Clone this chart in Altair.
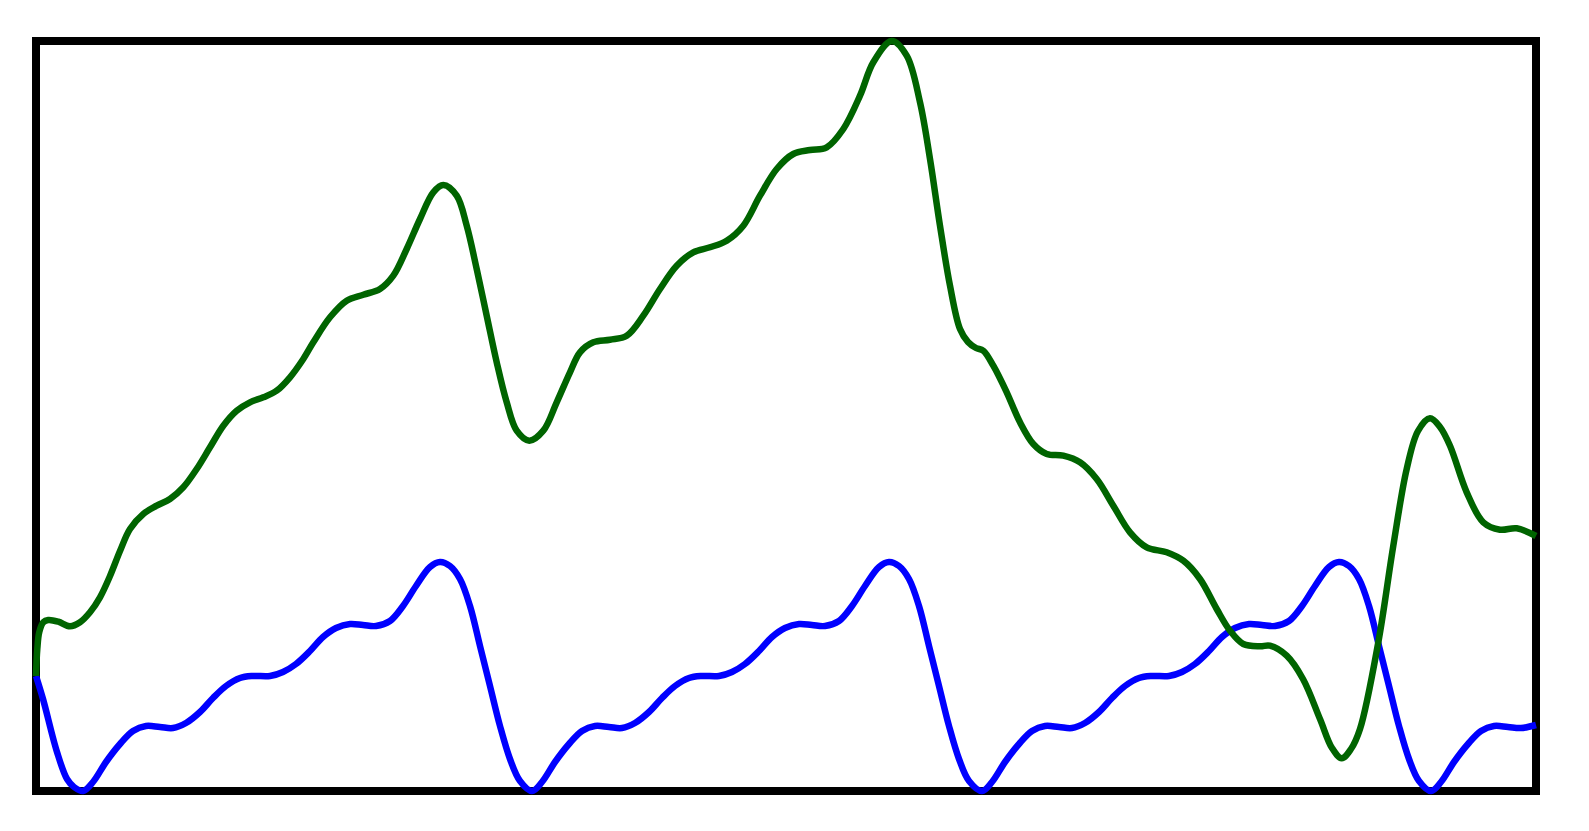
import altair as alt
import pandas as pd

# Values (x: 0..1500 across the frame, y: 0..750 bottom to top)
blue_x = [0, 7, 21, 31, 38, 47,
          57, 70, 84, 97, 110, 124, 137, 150, 164, 177, 190, 204, 217, 234, 247, 260, 274, 287,
          300, 314, 327, 340, 354, 367, 380, 394, 404, 414, 424, 434, 444, 454, 464, 474, 484, 496,
          506, 519, 533, 546, 559, 573, 586, 599, 613, 626, 639, 653, 666, 683, 696, 709, 723, 736,
          749, 763, 776, 789, 803, 816, 829, 843, 853, 863, 873, 883, 893, 903, 913, 923, 933, 946,
          956, 969, 983, 996, 1009, 1023, 1036, 1049, 1063, 1076, 1089, 1103, 1116, 1133, 1146, 1159,
          1173, 1186, 1199, 1213, 1226, 1239, 1253, 1266, 1279, 1293, 1303, 1313, 1323, 1333, 1343,
          1353, 1363, 1373, 1383, 1395,
          1405, 1418, 1432, 1445, 1458, 1472, 1485, 1500]
blue_y = [115, 92, 39, 12, 4, 0,
          9, 29, 47, 60, 65, 64, 63, 68, 79, 93, 105, 113, 115, 115, 119, 127, 140, 154,
          163, 167, 166, 165, 170, 185, 205, 224, 229, 225, 212, 185, 145, 105, 65, 32, 10, 0,
          9, 29, 47, 60, 65, 64, 63, 68, 79, 93, 105, 113, 115, 115, 119, 127, 140, 154,
          163, 167, 166, 165, 170, 185, 205, 224, 229, 225, 212, 185, 145, 105, 65, 32, 10, 0,
          9, 29, 47, 60, 65, 64, 63, 68, 79, 93, 105, 113, 115, 115, 119, 127,
          140, 154, 163, 167, 166, 165, 170, 185, 205, 224, 229, 225, 212, 185, 145,
          105, 65, 32, 10, 0,
          9, 29, 47, 60, 65, 64, 63, 66]

green_x = [0, 1.3, 3.3, 7.3, 12.3, 22.3, 34, 44, 54, 64, 74, 84, 94, 107.3, 120.7, 134, 147.3,
           160.7, 174, 187.3, 200.7, 214, 227.3, 240.7, 254, 267.3, 277.3, 294, 310.7, 327.3, 344,
           357.3, 370.7, 384, 397.3, 407.3, 420.7, 430.7, 440.7, 450.7, 460.7, 470.7, 480.7, 493.3,
           507.3, 520.7, 534, 544, 557.3, 574, 590.7, 607.3, 624, 640.7, 657.3, 674, 690.7, 707.3,
           724, 740.7, 757.3, 774, 790.7, 807.3, 824, 837.3, 855.7, 870.7, 884, 894, 904, 914, 924,
           932, 940, 947.3, 957.3, 970.7, 984, 997.3, 1010.7, 1027.3, 1044, 1060.7, 1077.3, 1094,
           1110.7, 1130.7, 1147.3, 1164, 1180.7, 1194, 1207.3, 1224, 1234, 1250.7, 1267, 1284, 1296,
           1305.7, 1315, 1324, 1342.3, 1357.3, 1370.7, 1382, 1394, 1404, 1414, 1430.7, 1447.3, 1464,
           1480.7, 1500]
green_y = [115, 142, 159, 168.7, 171, 169.3, 164.7, 168.7, 178.7, 193.7, 215, 240, 262, 277, 285.3,
           292, 303.7, 322, 343.7, 365.3, 380.3, 388.7, 393.7, 400.3, 413.7, 432, 448.7, 473.7,
           490.3, 496.3, 502, 515.3, 542, 572, 598.7, 606, 595.3, 565.3, 522, 475.3, 428.7, 388.7,
           360.3, 350.3, 360.3, 388.7, 418.7, 438.7, 448.7, 451.3, 455.3, 475.3, 502, 525.3, 538.7,
           543.7, 550.3, 565.3, 595.3, 622, 637, 641, 643.7, 662, 695.3, 728.7, 750, 735.3, 688.7,
           632, 565.3, 505.3, 462, 449, 443, 440.3, 425.3, 398.7, 368.7, 347, 337, 335.3, 328.7,
           312, 285.3, 258.7, 243.7, 238.7, 230.3, 212, 182, 160.3, 147, 144.7, 145.3, 135.3, 112,
           72, 43, 32.7, 42, 62, 148.7, 245.3, 322, 360, 372.7, 364, 345.3, 298.7, 268.7, 261.3,
           262.7, 255]

blue_df = pd.DataFrame({"x": blue_x, "y": blue_y, "series": "blue"})
green_df = pd.DataFrame({"x": green_x, "y": green_y, "series": "green"})

xs = alt.Scale(domain=[0, 1500], nice=False, zero=False)
ys = alt.Scale(domain=[0, 750], nice=False, zero=False)


def line(df, color):
    return alt.Chart(df).mark_line(
        color=color, strokeWidth=6.5, interpolate="catmull-rom", clip=False
    ).encode(
        x=alt.X("x:Q", scale=xs, axis=None),
        y=alt.Y("y:Q", scale=ys, axis=None),
    )


chart = alt.layer(
    line(blue_df, "#0000ff"),
    line(green_df, "#006400"),
).properties(
    width=1500,
    height=750,
    padding={"left": 28, "top": 33, "right": 10, "bottom": 10},
    autosize=alt.AutoSizeParams(type="none"),
    background="white",
).configure_view(
    stroke="black",
    strokeWidth=8,
)

chart.save("out.html", embed_options={"renderer": "svg", "actions": False})
